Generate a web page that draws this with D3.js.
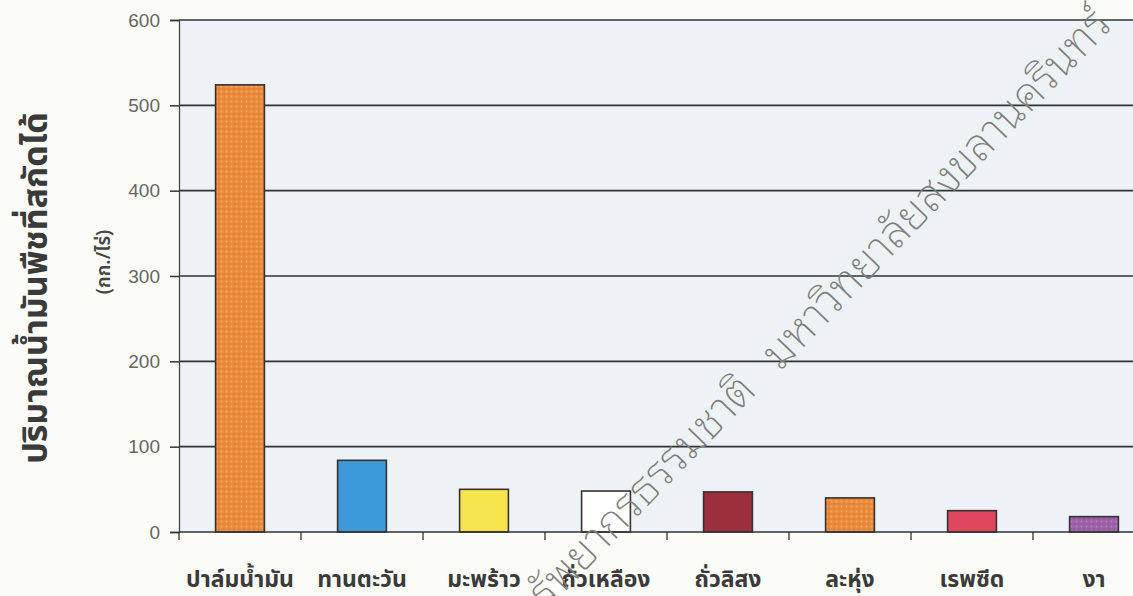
<!DOCTYPE html>
<html>
<head>
<meta charset="utf-8">
<script src="https://cdn.jsdelivr.net/npm/d3@7"></script>
<style>
  html, body { margin: 0; padding: 0; background: #fbfbf8; }
  svg { display: block; }
</style>
</head>
<body>
<svg id="chart" width="1133" height="596"></svg>
<script>
// Oil yield per rai for each oil crop
const crops = ["ปาล์มน้ำมัน", "ทานตะวัน", "มะพร้าว", "ถั่วเหลือง", "ถั่วลิสง", "ละหุ่ง", "เรพซีด", "งา"];
const yields = [524, 84, 50, 48, 47, 40, 25, 18];
const barColors = ["#ea8a3e", "#3c9ad9", "#f6e54c", "#ffffff", "#9c2f3b", "#ea8a3e", "#e0475f", "#9b62a8"];
const dotted = [true, false, false, false, false, true, false, true];
const yTicks = [0, 100, 200, 300, 400, 500, 600];

(function () {
const svg = d3.select("#chart");
const thaiFont = "'Noto Sans Thai', 'Noto Sans', 'Noto Sans CJK SC', sans-serif";
const loopFont = "'Noto Sans Thai Looped', 'Noto Serif Thai', 'Loma', 'Garuda', 'Noto Sans Thai', 'Noto Sans', sans-serif";
const numFont = "'Liberation Sans Narrow', 'Liberation Sans', Arial, sans-serif";

const plotLeft = 179, plotTop = 20, plotBottom = 532, bandW = 122;
const x = d3.scaleBand().domain(crops).range([plotLeft, plotLeft + bandW * crops.length]).paddingInner(0.6).paddingOuter(0.3);
const y = d3.scaleLinear().domain([0, 600]).range([plotBottom, plotTop]);

// dotted fill patterns
const defs = svg.append("defs");
barColors.forEach((c, i) => {
  if (!dotted[i]) return;
  const p = defs.append("pattern").attr("id", "dots" + i).attr("width", 5).attr("height", 5)
    .attr("patternUnits", "userSpaceOnUse");
  p.append("rect").attr("width", 5).attr("height", 5).attr("fill", c);
  p.append("circle").attr("cx", 1.5).attr("cy", 1.5).attr("r", 0.9).attr("fill", d3.color(c).brighter(0.6));
  p.append("circle").attr("cx", 4).attr("cy", 4).attr("r", 0.7).attr("fill", d3.color(c).darker(0.4));
});

// plot background
svg.append("rect").attr("x", plotLeft).attr("y", plotTop).attr("width", 1133 - plotLeft).attr("height", plotBottom - plotTop)
  .attr("fill", "#edf2f6");

// horizontal grid lines
svg.append("g").selectAll("line").data(yTicks.filter(d => d > 0)).join("line")
  .attr("x1", plotLeft).attr("x2", 1133).attr("y1", d => y(d)).attr("y2", d => y(d))
  .attr("stroke", "#2e3338").attr("stroke-width", 1.6);

// y axis
const yAxis = svg.append("g").attr("transform", `translate(${plotLeft},0)`)
  .call(d3.axisLeft(y).tickValues(yTicks).tickSize(9).tickPadding(10));
yAxis.select(".domain").attr("stroke", "#444").attr("stroke-width", 1.3);
yAxis.selectAll(".tick line").attr("stroke", "#333").attr("stroke-width", 1.5);
yAxis.selectAll(".tick text").attr("font-family", numFont).attr("font-size", 19).attr("fill", "#666");

// bars
svg.append("g").selectAll("rect").data(crops).join("rect")
  .attr("x", d => x(d)).attr("width", x.bandwidth())
  .attr("y", (d, i) => y(yields[i])).attr("height", (d, i) => y(0) - y(yields[i]))
  .attr("fill", (d, i) => dotted[i] ? `url(#dots${i})` : barColors[i])
  .attr("stroke", "#3a3030").attr("stroke-width", 1.6);

// x axis with ticks at category boundaries
svg.append("line").attr("x1", plotLeft).attr("x2", 1133).attr("y1", plotBottom).attr("y2", plotBottom)
  .attr("stroke", "#333").attr("stroke-width", 1.6);
const step = x.step();
svg.append("g").selectAll("line").data(crops).join("line")
  .attr("x1", (d, i) => plotLeft + i * step).attr("x2", (d, i) => plotLeft + i * step)
  .attr("y1", plotBottom).attr("y2", plotBottom + 8)
  .attr("stroke", "#333").attr("stroke-width", 1.3);

// category labels
svg.append("g").selectAll("text").data(crops).join("text")
  .attr("x", d => x(d) + x.bandwidth() / 2).attr("y", 587)
  .attr("text-anchor", "middle").attr("font-family", thaiFont).attr("font-size", 23)
  .attr("font-weight", 700).attr("fill", "#3a3a3a").text(d => d);

// y axis titles
svg.append("text").attr("transform", "translate(47,288) rotate(-90)")
  .attr("text-anchor", "middle").attr("font-family", thaiFont).attr("font-size", 34)
  .attr("font-weight", 700).attr("fill", "#3a3a3a").text("ปริมาณน้ำมันพืชที่สกัดได้");
svg.append("text").attr("transform", "translate(110,262) rotate(-90)")
  .attr("text-anchor", "middle").attr("font-family", thaiFont).attr("font-size", 19)
  .attr("font-weight", 600).attr("fill", "#444").text("(กก./ไร่)");

// diagonal thin-line stamp text
const stamp = svg.append("g").attr("font-family", loopFont).attr("font-size", 45)
  .attr("font-weight", 200).attr("fill", "#7d7d7d");
stamp.append("text").attr("transform", "translate(758,392) rotate(-46)")
  .attr("text-anchor", "end").text("ทรัพยากรธรรมชาติ");
stamp.append("text").attr("transform", "translate(780,372) rotate(-46)")
  .attr("text-anchor", "start").text("มหาวิทยาลัยสงขลานครินทร์");
})();
</script>
</body>
</html>
